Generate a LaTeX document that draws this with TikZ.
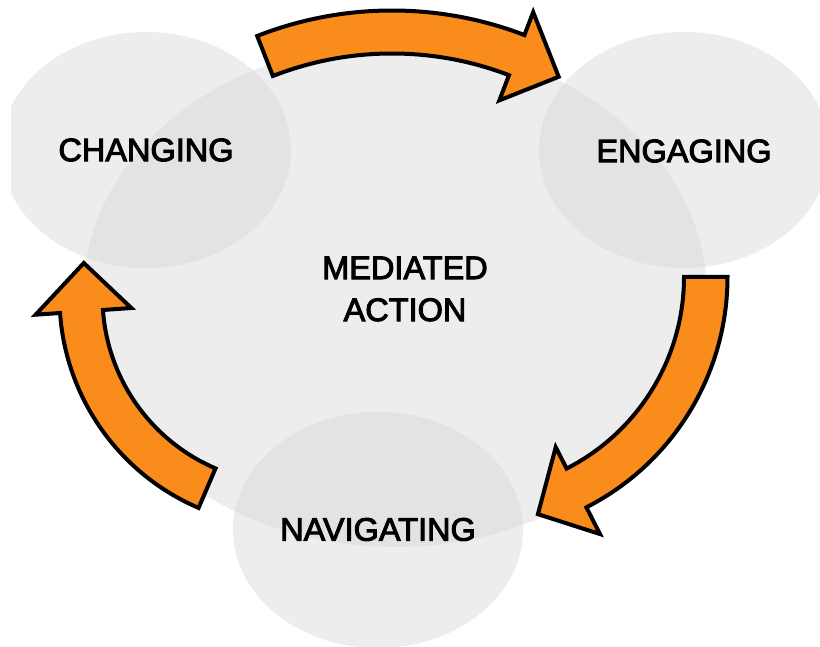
\documentclass[tikz,border=0pt]{standalone}
\usepackage{fontspec}
\newfontfamily\lblfont[FakeBold=3]{Liberation Sans}
\definecolor{arroworange}{RGB}{249,140,26}
\tikzset{
  bubble/.style={fill=black!16, fill opacity=0.44},
  stagetext/.style={font=\lblfont\fontsize{32.5}{42}\selectfont, text=black, align=center, inner sep=0pt},
  cyclearrow/.style={fill=arroworange, draw=black, line width=4pt, line join=miter}
}
\begin{document}
\begin{tikzpicture}[x=1pt, y=1pt]
\useasboundingbox (0,0) rectangle (820,647);

% translucent discs: the central action and the three stages
\begin{scope}
  \clip (11,0) rectangle (820,647);
  \fill[bubble] (395,352) ellipse[x radius=312pt, y radius=252pt];
  \fill[bubble] (146,497) ellipse[x radius=145pt, y radius=118pt];
  \fill[bubble] (684,497) ellipse[x radius=145pt, y radius=118pt];
  \fill[bubble] (378,117) ellipse[x radius=145pt, y radius=118pt];
\end{scope}

% labels
\node[stagetext] (changing) at (146,497) {CHANGING};
\node[stagetext] (engaging) at (684,496) {ENGAGING};
\node[stagetext] (navigating) at (378,117.5) {NAVIGATING};
\node[stagetext] (mediated) at (405,358) {MEDIATED\\ACTION};

% curved block arrows running clockwise round the cycle
\begin{scope}[shift={(392,267)}]
  \draw[cyclearrow] (111.4:369.5pt) arc[start angle=111.4, end angle=69, radius=369.5pt]
    -- (69:394pt) -- (61.2:346pt) -- (69:299.5pt) -- (69:326.5pt)
    arc[start angle=69, end angle=111.4, radius=326.5pt] -- cycle;
\end{scope}
\begin{scope}[shift={(469,370)}]
  \draw[cyclearrow] (0:258.5pt) arc[start angle=0, end angle=-63, radius=258.5pt]
    -- (-63:288.5pt) -- (-73.8:247pt) -- (-63:191pt) -- (-63:215pt)
    arc[start angle=-63, end angle=0, radius=215pt] -- cycle;
\end{scope}
\begin{scope}[shift={(289,350)}]
  \draw[cyclearrow] (246.8:229.5pt) arc[start angle=246.8, end angle=184, radius=229.5pt]
    -- (184:254pt) -- (170.6:208pt) -- (184:158pt) -- (184:186.5pt)
    arc[start angle=184, end angle=246.8, radius=186.5pt] -- cycle;
\end{scope}
\end{tikzpicture}
\end{document}
